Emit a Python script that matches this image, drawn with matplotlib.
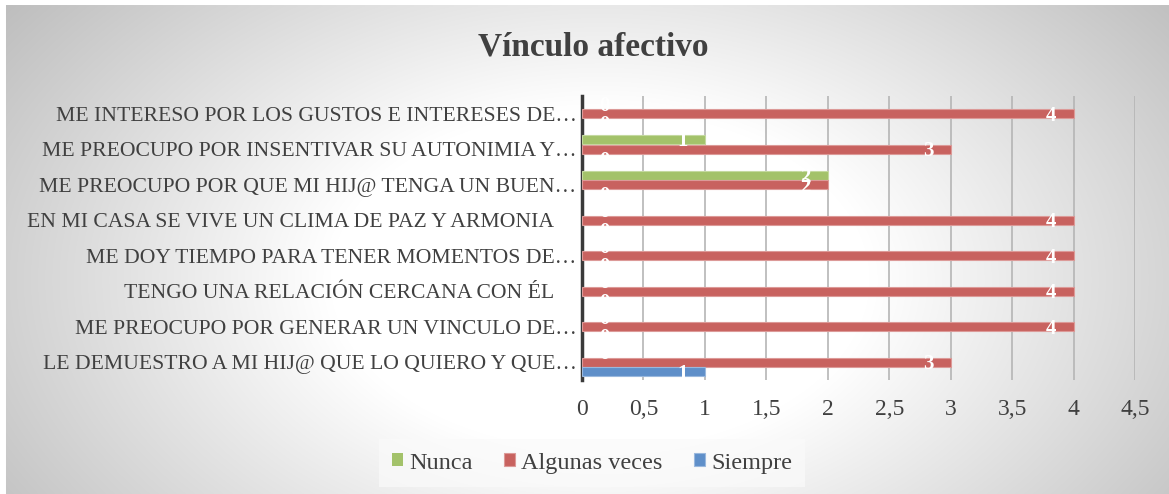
import numpy as np
import matplotlib
matplotlib.use('Agg')
import matplotlib.pyplot as plt
from matplotlib.transforms import ScaledTranslation

# categories listed bottom -> top, as drawn on the y axis
categories = [
    'LE DEMUESTRO A MI HIJ@ QUE LO QUIERO Y QUE…',
    'ME PREOCUPO POR GENERAR UN VINCULO DE…',
    'TENGO UNA RELACIÓN CERCANA CON ÉL ',
    'ME DOY TIEMPO PARA TENER MOMENTOS DE…',
    'EN MI CASA SE VIVE UN CLIMA DE PAZ Y ARMONIA ',
    'ME PREOCUPO POR QUE MI HIJ@ TENGA UN BUEN…',
    'ME PREOCUPO POR INSENTIVAR SU AUTONIMIA Y…',
    'ME INTERESO POR LOS GUSTOS E INTERESES DE…',
]
nunca = [0, 0, 0, 0, 0, 2, 1, 0]
algunas = [3, 4, 4, 4, 4, 2, 3, 4]
siempre = [1, 0, 0, 0, 0, 0, 0, 0]

xticks = [0, 0.5, 1, 1.5, 2, 2.5, 3, 3.5, 4, 4.5]
xlabels = ['0', '0,5', '1', '1,5', '2', '2,5', '3', '3,5', '4', '4,5']

title = 'Vínculo afectivo'
serif = 'Liberation Serif'
text_col = '#404040'

W, H = 1169, 494
fig = plt.figure(figsize=(W / 100, H / 100), dpi=100)

# background gradient (white centre, grey corners)
bg = fig.add_axes([0, 0, 1, 1], zorder=-10)
xx, yy = np.meshgrid(np.arange(W), np.arange(H))
d = np.sqrt(((xx - 600) / 600.0) ** 2 + ((yy - 280) / 380.0) ** 2)
shade = 1 - 0.33 * np.clip(d - 0.45, 0, None)
shade = np.clip(shade, 0.74, 1.0)
shade[:6, :] = 1.0
shade[:, :6] = 1.0
img = np.dstack([shade, shade, shade])
bg.imshow(img, extent=[0, W, H, 0], aspect='auto', interpolation='bilinear')
bg.set_xlim(0, W)
bg.set_ylim(H, 0)
bg.axis('off')

ax = fig.add_axes([582 / W, 1 - 380 / H, (1135 - 582) / W, 284 / H])
ax.patch.set_visible(False)

y = np.arange(len(categories))
bh = 0.25
off = 0.27


def lw(vals):
    return [0.8 if v > 0 else 0 for v in vals]


b_n = ax.barh(y + off, nunca, height=bh, color='#a3c26a', edgecolor='#c4d9a0', linewidth=lw(nunca), zorder=3, label='Nunca')
b_a = ax.barh(y, algunas, height=bh, color='#c8625f', edgecolor='#dc9a98', linewidth=lw(algunas), zorder=3, label='Algunas veces')
b_s = ax.barh(y - off, siempre, height=bh, color='#5f8fc9', edgecolor='#9ab8dd', linewidth=lw(siempre), zorder=3, label='Siempre')

for vals, dy in [(nunca, off), (algunas, 0), (siempre, -off)]:
    for i, v in enumerate(vals):
        xpos = v - 0.18 if v > 0 else 0.18
        ax.text(xpos, i + dy - 0.05, str(v), color='white', ha='center', va='center',
                fontsize=15, fontfamily=serif, fontweight='bold', zorder=5)

ax.set_xlim(0, 4.5)
ax.set_ylim(-0.5, len(categories) - 0.5)
ax.set_xticks(xticks)
ax.set_xticklabels(xlabels)
ax.set_yticks(y)
ax.set_yticklabels(categories)
ax.grid(axis='x', color='#b5b5b5', linewidth=1.2, zorder=0)
ax.set_axisbelow(True)
for s in ['top', 'right', 'bottom']:
    ax.spines[s].set_visible(False)
ax.spines['left'].set_color('#3a3a3a')
ax.spines['left'].set_linewidth(2.5)
ax.tick_params(axis='y', length=0, pad=4, labelsize=15.6, labelcolor=text_col)
ax.tick_params(axis='x', length=0, pad=14, labelsize=17, labelcolor=text_col)
for lab in ax.get_xticklabels() + ax.get_yticklabels():
    lab.set_fontfamily(serif)
# labels with a trailing blank sit a little further left, as in the original
for lab in ax.get_yticklabels():
    if lab.get_text().endswith(' '):
        lab.set_transform(lab.get_transform() + ScaledTranslation(-18 / 100, 0, fig.dpi_scale_trans))

fig.text(593 / W, 1 - 47 / H, title, ha='center', va='center', fontsize=24,
         fontweight='bold', fontfamily=serif, color=text_col)

leg = fig.legend(handles=[b_n, b_a, b_s], loc='center', bbox_to_anchor=(592 / W, 1 - 463 / H),
                 ncol=3, frameon=True, fancybox=False, handlelength=0.45, handleheight=0.45,
                 handletextpad=0.25, columnspacing=1.3, borderpad=0.55,
                 prop={'family': serif, 'size': 17.5})
leg.get_frame().set_facecolor('#fafafa')
leg.get_frame().set_alpha(0.7)
leg.get_frame().set_edgecolor('none')
for t in leg.get_texts():
    t.set_color(text_col)

fig.savefig('out.png', dpi=100)
